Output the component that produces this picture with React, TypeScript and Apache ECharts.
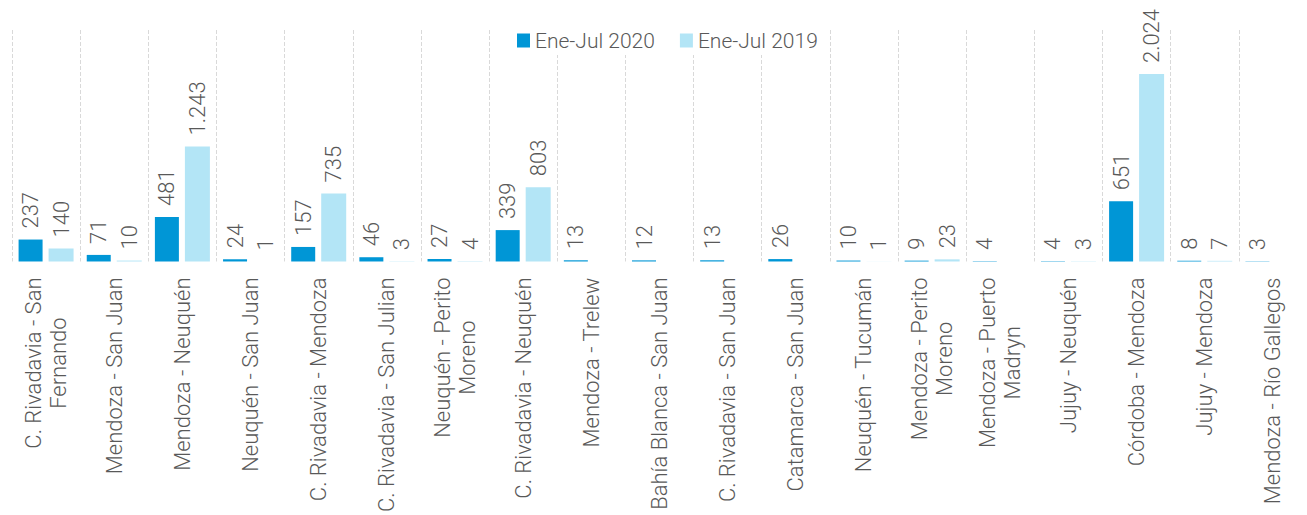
import React, { useEffect, useRef } from "react";
import * as echarts from "echarts";

const routeList = [
  "C. Rivadavia - San\nFernando",
  "Mendoza - San Juan",
  "Mendoza - Neuquén",
  "Neuquén - San Juan",
  "C. Rivadavia - Mendoza",
  "C. Rivadavia - San Julian",
  "Neuquén - Perito\nMoreno",
  "C. Rivadavia - Neuquén",
  "Mendoza - Trelew",
  "Bahía Blanca - San Juan",
  "C. Rivadavia - San Juan",
  "Catamarca - San Juan",
  "Neuquén - Tucumán",
  "Mendoza - Perito\nMoreno",
  "Mendoza - Puerto\nMadryn",
  "Jujuy - Neuquén",
  "Córdoba - Mendoza",
  "Jujuy - Mendoza",
  "Mendoza - Río Gallegos",
];

const values2020: (number | null)[] = [237, 71, 481, 24, 157, 46, 27, 339, 13, 12, 13, 26, 10, 9, 4, 4, 651, 8, 3];
const values2019: (number | null)[] = [140, 10, 1243, 1, 735, 3, 4, 803, null, null, null, null, 1, 23, null, 3, 2024, 7, null];

const seriesNames = ["Ene-Jul 2020", "Ene-Jul 2019"];

const fmt = (v: number) => v.toLocaleString("de-DE");

export default function App() {
  const ref = useRef<HTMLDivElement>(null);
  useEffect(() => {
    if (!ref.current) return;
    const chart = echarts.init(ref.current, null, { renderer: "svg" });
    const textColor = "#595959";
    const font = "Roboto";
    const label = {
      show: true,
      position: "top",
      rotate: 90,
      align: "left",
      verticalAlign: "middle",
      distance: 11,
      color: textColor,
      fontFamily: font,
      fontWeight: 300,
      fontSize: 22,
      formatter: (p: any) => fmt(p.value),
    };
    chart.setOption({
      animation: false,
      textStyle: { fontFamily: font },
      legend: {
        data: seriesNames,
        left: 507,
        top: 26,
        padding: [4, 10],
        backgroundColor: "#ffffff",
        icon: "rect",
        itemWidth: 13,
        itemHeight: 14,
        itemGap: 25,
        textStyle: { color: textColor, fontSize: 21, fontWeight: 300, fontFamily: font },
      },
      grid: { left: 12, right: -2, top: 30, bottom: 252, containLabel: false },
      xAxis: {
        type: "category",
        data: routeList,
        axisLine: { show: false },
        axisTick: { show: false },
        splitLine: { show: true, lineStyle: { type: [4, 2], color: "#d9d9d9", width: 1 } },
        axisLabel: {
          interval: 0,
          rotate: 90,
          margin: 16,
          color: textColor,
          fontFamily: font,
          fontWeight: 300,
          fontSize: 22,
          lineHeight: 25,
          formatter: (v: string) =>
            v
              .split("\n")
              .map((l) => "{c|" + l + "}")
              .join("\n"),
          rich: {
            c: {
              align: "center",
              color: textColor,
              fontFamily: font,
              fontWeight: 300,
              fontSize: 22,
              lineHeight: 25,
            },
          },
        },
      },
      yAxis: {
        type: "value",
        min: 0,
        max: 2500,
        show: false,
        splitLine: { show: false },
      },
      series: [
        {
          name: seriesNames[0],
          type: "bar",
          data: values2020,
          barWidth: 24,
          barGap: "25%",
          itemStyle: { color: "#0096d6" },
          label,
        },
        {
          name: seriesNames[1],
          type: "bar",
          data: values2019,
          barWidth: 25,
          itemStyle: { color: "#b3e5f6" },
          label,
        },
      ],
    });
    return () => chart.dispose();
  }, []);
  return (
    <div
      ref={ref}
      style={{ position: "absolute", left: 0, top: 0, width: 1307, height: 515 }}
    />
  );
}
